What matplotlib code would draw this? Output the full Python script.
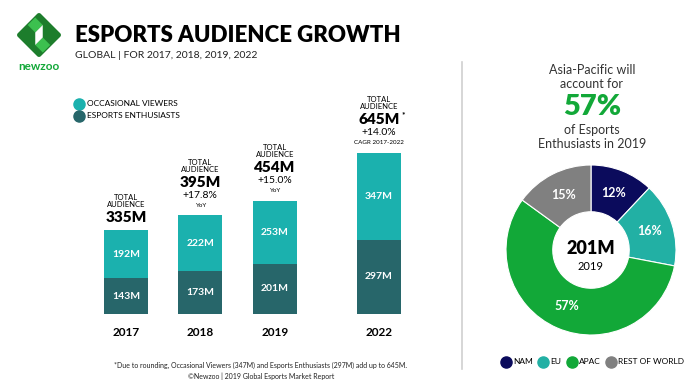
import matplotlib.pyplot as plt
import matplotlib.patches as mpatches
from matplotlib.lines import Line2D
from matplotlib.transforms import Affine2D

# data
years = ['2017', '2018', '2019', '2022']
enthusiasts = [143, 173, 201, 297]
occasional = [192, 222, 253, 347]
totals = [335, 395, 454, 645]
growth = ['', '+17.8%', '+15.0%', '+14.0%']
growth_note = ['', 'YoY', 'YoY', 'CAGR 2017-2022']

regions = ['NAM', 'EU', 'APAC', 'REST OF WORLD']
region_share = [12, 16, 57, 15]

TEAL = '#1bb1ae'
DARK = '#27666a'
GREEN = '#12a838'
region_colors = ['#0b0b5c', '#22b0a4', '#12a838', '#808080']

W, H = 700, 390
fig = plt.figure(figsize=(7, 3.9), dpi=100)
plt.rcParams['font.family'] = ['Lato', 'DejaVu Sans']


def fx(px):
    return px / W


def fy(py):
    return 1 - py / H


# header
fig.text(fx(75), fy(35), 'ESPORTS AUDIENCE GROWTH', fontsize=16, fontweight='heavy',
         color='black', va='center', ha='left')
fig.text(fx(75), fy(56), 'GLOBAL | FOR 2017, 2018, 2019, 2022', fontsize=7.5,
         color='#222222', va='center', ha='left')

# logo
lax = fig.add_axes([fx(14), fy(60), 50 / W, 50 / H])
lax.set_xlim(-1, 1)
lax.set_ylim(-1, 1)
lax.set_aspect('equal')
lax.axis('off')
rot = Affine2D().rotate_deg(45) + lax.transData
box = mpatches.FancyBboxPatch((-0.55, -0.55), 1.1, 1.1, boxstyle='round,pad=0.1',
                              fc='#1d7d2c', ec='none', transform=rot)
lax.add_patch(box)
lax.add_patch(mpatches.Polygon([(-0.15, 0.7), (0.15, 0.4), (-0.15, 0.1), (-0.45, 0.4)],
                               fc='#3cc04f', ec='none'))
lax.add_patch(mpatches.Polygon([(0.15, -0.7), (-0.15, -0.4), (0.15, -0.1), (0.45, -0.4)],
                               fc='#3cc04f', ec='none'))
lax.add_patch(mpatches.Polygon([(-0.15, 0.1), (0.15, 0.4), (0.15, -0.1), (-0.15, -0.4)],
                               fc='white', ec='none'))
fig.text(fx(39), fy(66), 'newzoo', fontsize=8.5, fontweight='bold', color=GREEN,
         ha='center', va='center')

# bar chart
pos = [0, 1, 2, 3.4]
scale = 0.25  # px per M
ax = fig.add_axes([fx(60), fy(314), 380 / W, 234 / H])
ax.set_xlim((60 - 126) / 74.4, (440 - 126) / 74.4)
ax.set_ylim(0, 234 / scale)
ax.axis('off')
bw = 44 / 74.4
ax.bar(pos, enthusiasts, width=bw, color=DARK)
ax.bar(pos, occasional, width=bw, bottom=enthusiasts, color=TEAL)

for i, x in enumerate(pos):
    ax.text(x, enthusiasts[i] / 2, f'{enthusiasts[i]}M', color='white', fontsize=7.5,
            fontweight='bold', ha='center', va='center')
    ax.text(x, enthusiasts[i] + occasional[i] / 2, f'{occasional[i]}M', color='white',
            fontsize=7.5, fontweight='bold', ha='center', va='center')
    ax.text(x, -19 / scale, years[i], fontsize=8.5, fontweight='bold', ha='center',
            va='center', clip_on=False)
    shift = 20 if growth[i] else 0
    lines = [('TOTAL', 13 + shift + 20, 5.5, 'normal'),
             ('AUDIENCE', 13 + shift + 13, 5.5, 'normal'),
             (f'{totals[i]}M', 13 + shift, 11, 'heavy')]
    if growth[i]:
        lines.append((growth[i], 20, 7.5, 'normal'))
        lines.append((growth_note[i], 10, 4.5, 'normal'))
    for txt, off, fs, fw in lines:
        ax.annotate(txt, xy=(x, totals[i]), xytext=(0, off * 0.72), textcoords='offset points',
                    ha='center', va='center', fontsize=fs, fontweight=fw, color='black',
                    annotation_clip=False)
    if years[i] == '2022':
        ax.annotate('*', xy=(x, totals[i]), xytext=(24 * 0.72, 38 * 0.72),
                    textcoords='offset points', ha='center', va='center', fontsize=6,
                    fontweight='bold', annotation_clip=False)

handles = [Line2D([], [], marker='o', ls='none', ms=8, color=TEAL),
           Line2D([], [], marker='o', ls='none', ms=8, color=DARK)]
fig.legend(handles, ['OCCASIONAL VIEWERS', 'ESPORTS ENTHUSIASTS'], loc='center left',
           bbox_to_anchor=(fx(70), fy(110)), frameon=False, fontsize=6,
           handletextpad=0.3, labelspacing=0.6, handlelength=1.2, borderpad=0)

fig.text(fx(261), fy(365),
         '*Due to rounding, Occasional Viewers (347M) and Esports Enthusiasts (297M) add up to 645M.',
         fontsize=5, ha='center', va='center', color='#222222')
fig.text(fx(261), fy(376), '©Newzoo | 2019 Global Esports Market Report', fontsize=5,
         ha='center', va='center', color='#222222')

# separator
fig.add_artist(Line2D([fx(462), fx(462)], [fy(62), fy(369)], color='#d0d0d0', lw=1.2))

# right panel
fig.text(fx(592), fy(70), 'Asia-Pacific will', fontsize=9, ha='center', va='center', color='#333333')
fig.text(fx(592), fy(84), 'account for', fontsize=9, ha='center', va='center', color='#333333')
fig.text(fx(592), fy(107), '57%', fontsize=21, fontweight='heavy', ha='center', va='center', color=GREEN)
fig.text(fx(592), fy(130), 'of Esports', fontsize=9, ha='center', va='center', color='#333333')
fig.text(fx(592), fy(144), 'Enthusiasts in 2019', fontsize=9, ha='center', va='center', color='#333333')

pax = fig.add_axes([fx(591 - 90), fy(250 + 90), 180 / W, 180 / H])
lim = 90 / 85
pax.set_xlim(-lim, lim)
pax.set_ylim(-lim, lim)
pax.set_aspect('equal')
pax.axis('off')
wedges, _, autotexts = pax.pie(region_share, colors=region_colors, startangle=90, counterclock=False,
                               radius=1, autopct='%d%%', pctdistance=0.72,
                               wedgeprops=dict(width=0.55, edgecolor='white', linewidth=0.8))
pax.set_xlim(-lim, lim)
pax.set_ylim(-lim, lim)
for t in autotexts:
    t.set_color('white')
    t.set_fontsize(9)
    t.set_fontweight('bold')
pax.text(0, 0.02, '201M', fontsize=13, fontweight='heavy', ha='center', va='center')
pax.text(0, -0.2, '2019', fontsize=8, ha='center', va='center')

leg_handles = [Line2D([], [], marker='o', ls='none', ms=8, color=c) for c in region_colors]
fig.legend(leg_handles, regions, loc='center', bbox_to_anchor=(fx(593), fy(362)), ncol=4,
           frameon=False, fontsize=6, handletextpad=0.4, columnspacing=0.8,
           handlelength=0.9, borderpad=0)

fig.savefig('out.png', dpi=100, facecolor='white')
